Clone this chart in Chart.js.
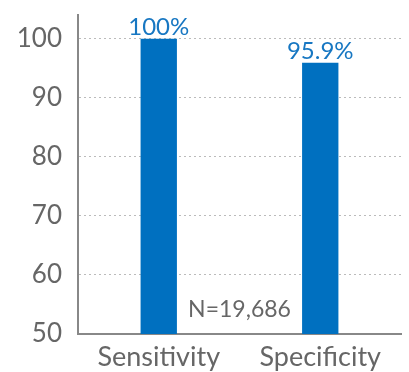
<!DOCTYPE html>
<html>
<head>
<meta charset="utf-8">
<script src="https://cdn.jsdelivr.net/npm/chart.js@4/dist/chart.umd.min.js"></script>
<style>
  html, body { margin: 0; padding: 0; background: #fff; }
  #wrap { width: 409px; height: 372px; }
</style>
</head>
<body>
<div id="wrap"><canvas id="c" width="409" height="372"></canvas></div>
<script>
const categories = ["Sensitivity", "Specificity"];
const values = [100, 95.9];
const valueLabels = ["100%", "95.9%"];
const yTicks = [50, 60, 70, 80, 90, 100];
const noteText = "N=19,686";

const BLUE = "#0070C0";
const GREY = "#666666";

// Percent labels above bars and the sample-size note
const annotate = {
  id: "annotate",
  afterDatasetsDraw(chart) {
    const { ctx, scales: { x, y } } = chart;
    ctx.save();
    ctx.textAlign = "center";
    ctx.textBaseline = "alphabetic";
    ctx.font = "24px Lato";
    ctx.fillStyle = "#1777C2";
    values.forEach((v, i) => {
      ctx.fillText(valueLabels[i], x.getPixelForValue(i), y.getPixelForValue(v) - 4);
    });
    ctx.font = "23px Lato";
    ctx.fillStyle = GREY;
    ctx.textBaseline = "middle";
    ctx.fillText(noteText, (x.left + x.right) / 2, y.getPixelForValue(54.2));
    ctx.restore();
  }
};

new Chart(document.getElementById("c"), {
  type: "bar",
  data: {
    labels: categories,
    datasets: [{
      data: values,
      backgroundColor: BLUE,
      borderWidth: 0,
      barPercentage: 0.45,
      categoryPercentage: 0.5
    }]
  },
  options: {
    responsive: false,
    animation: false,
    layout: { padding: { top: 0, right: 8, left: 0, bottom: 0 } },
    plugins: { legend: { display: false }, tooltip: { enabled: false } },
    scales: {
      x: {
        grid: { display: false, drawTicks: false },
        border: { color: "#888888", width: 2 },
        ticks: { color: GREY, font: { family: "Lato", size: 27 }, padding: 7 },
        afterFit(s) { s.height = 38; }
      },
      y: {
        min: 50,
        max: 104,
        afterBuildTicks(s) { s.ticks = yTicks.map(v => ({ value: v })); },
        grid: {
          color: "#BBBBBB",
          lineWidth: 1,
          drawTicks: false
        },
        border: { color: "#888888", width: 2, dash: [2, 3] },
        ticks: { color: GREY, font: { family: "Lato", size: 26 }, padding: 16 },
        afterFit(s) { s.width = 78; s.paddingTop = 15; }
      }
    }
  },
  plugins: [annotate]
});
</script>
</body>
</html>
